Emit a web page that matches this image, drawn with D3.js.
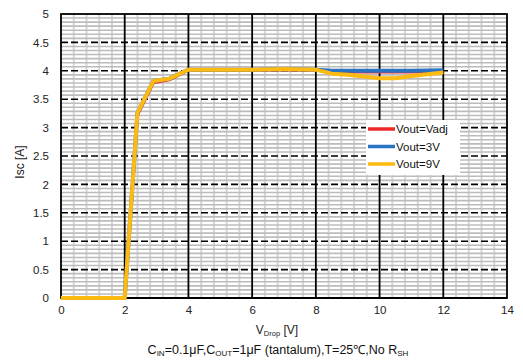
<!DOCTYPE html>
<html><head><meta charset="utf-8">
<script src="https://cdn.jsdelivr.net/npm/d3@7"></script>
<style>body{margin:0;background:#fff}svg{display:block;font-family:"Liberation Sans",Arial,sans-serif}</style>
</head><body><svg id="c" width="523" height="360"></svg>
<script>
const xTicks = [0,2,4,6,8,10,12,14];
const yTicks = [0,0.5,1,1.5,2,2.5,3,3.5,4,4.5,5];
const seriesNames = ["Vout=Vadj","Vout=3V","Vout=9V"];
const seriesColors = ["#ee2a2a","#2a72c2","#fdbb12"];
const xVadj = [0,2,2.4,2.9,3.4,4,5,6,7,8,8.5,9,10,11,12];
const yVadj = [0,0,3.22,3.79,3.84,4.01,4.01,4.01,4.02,4.01,3.98,3.98,3.98,3.98,3.98];
const x3V = [0,2,2.4,2.9,3.4,4,5,6,7,8,8.5,9,10,11,12];
const y3V = [0,0,3.26,3.82,3.86,4.02,4.02,4.02,4.03,4.02,4.0,4.0,4.0,4.0,4.01];
const x9V = [0,2,2.4,2.9,3.4,4,5,6,7,8,8.5,9,10,10.5,11,12];
const y9V = [0,0,3.26,3.82,3.86,4.02,4.02,4.02,4.03,4.02,3.95,3.93,3.87,3.87,3.91,3.97];

const svg = d3.select("#c");
const L=61,R=507,T=14,B=298;
const x = d3.scaleLinear().domain([0,14]).range([L,R]);
const y = d3.scaleLinear().domain([0,5]).range([B,T]);

const g = svg.append("g");
const minorX = d3.range(0,14.0001,0.4).filter(v=>Math.abs(v/2-Math.round(v/2))>1e-6);
g.selectAll(".mvx").data(minorX).enter().append("line")
 .attr("x1",d=>x(d)).attr("x2",d=>x(d)).attr("y1",T).attr("y2",B)
 .attr("stroke","#d6d6d6").attr("stroke-width",2);
const minorY = [];
for(let i=0;i<10;i++){for(let k=1;k<7;k++){minorY.push(i*0.5+k*0.5/7);}}
g.selectAll(".mhy").data(minorY).enter().append("line")
 .attr("x1",L).attr("x2",R).attr("y1",d=>y(d)).attr("y2",d=>y(d))
 .attr("stroke","#bcbcbc").attr("stroke-width",1.6);
g.selectAll(".vx").data(xTicks.slice(1,-1)).enter().append("line")
 .attr("x1",d=>x(d)).attr("x2",d=>x(d)).attr("y1",T).attr("y2",B)
 .attr("stroke","#000").attr("stroke-width",1.8);
g.selectAll(".hy").data(yTicks.slice(1,-1)).enter().append("line")
 .attr("x1",L).attr("x2",R).attr("y1",d=>y(d)).attr("y2",d=>y(d))
 .attr("stroke","#000").attr("stroke-width",1.6).attr("stroke-dasharray","7,3");
svg.append("rect").attr("x",L).attr("y",T).attr("width",R-L).attr("height",B-T)
 .attr("fill","none").attr("stroke","#000").attr("stroke-width",1.8);
svg.append("line").attr("x1",L).attr("x2",R).attr("y1",B).attr("y2",B).attr("stroke","#000").attr("stroke-width",2.2);

const xAxis = d3.axisBottom(x).tickValues(xTicks).tickSize(0).tickPadding(8);
const xa = svg.append("g").attr("transform",`translate(0,${B})`).call(xAxis);
xa.select(".domain").remove();
xa.selectAll("text").attr("font-size",11.5).attr("fill","#222").attr("font-family","Liberation Sans, Arial, sans-serif");
const yAxis = d3.axisLeft(y).tickValues(yTicks).tickSize(0).tickPadding(12).tickFormat(d3.format("~g"));
const ya = svg.append("g").attr("transform",`translate(${L},0)`).call(yAxis);
ya.select(".domain").remove();
ya.selectAll("text").attr("font-size",11.5).attr("fill","#222").attr("font-family","Liberation Sans, Arial, sans-serif");

const line = d3.line().x(d=>x(d[0])).y(d=>y(d[1]));
const data = [d3.zip(xVadj,yVadj), d3.zip(x3V,y3V), d3.zip(x9V,y9V)];
const widths=[3,4,4];
data.forEach((d,i)=>{
  svg.append("path").datum(d).attr("d",line).attr("fill","none")
   .attr("stroke",seriesColors[i]).attr("stroke-width",widths[i]).attr("stroke-linejoin","round");
});

const lg = svg.append("g");
lg.append("rect").attr("x",366).attr("y",120).attr("width",94).attr("height",55).attr("fill","#fff");
seriesNames.forEach((n,i)=>{
  const yy = 129 + i*17.5;
  lg.append("line").attr("x1",368).attr("x2",395).attr("y1",yy).attr("y2",yy)
    .attr("stroke",seriesColors[i]).attr("stroke-width",3.5);
  lg.append("text").attr("x",396).attr("y",yy+4).attr("font-size",11.5).attr("fill","#111").text(n);
});

svg.append("text").attr("transform","translate(24,162) rotate(-90)").attr("text-anchor","middle")
 .attr("font-size",12).attr("fill","#222").text("Isc [A]");
const xt = svg.append("text").attr("x",277).attr("y",334).attr("text-anchor","middle").attr("font-size",12).attr("fill","#222");
xt.append("tspan").text("V");
xt.append("tspan").attr("font-size",7.5).attr("dy",1.5).text("Drop");
xt.append("tspan").attr("dy",-1.5).text(" [V]");
const cap = svg.append("text").attr("x",278).attr("y",354).attr("text-anchor","middle").attr("font-size",12.5).attr("fill","#111");
cap.append("tspan").text("C");
cap.append("tspan").attr("font-size",8).attr("dy",2).text("IN");
cap.append("tspan").attr("dy",-2).text("=0.1μF,C");
cap.append("tspan").attr("font-size",8).attr("dy",2).text("OUT");
cap.append("tspan").attr("dy",-2).text("=1μF (tantalum),T=25℃,No R");
cap.append("tspan").attr("font-size",8).attr("dy",2).text("SH");
</script></body></html>
